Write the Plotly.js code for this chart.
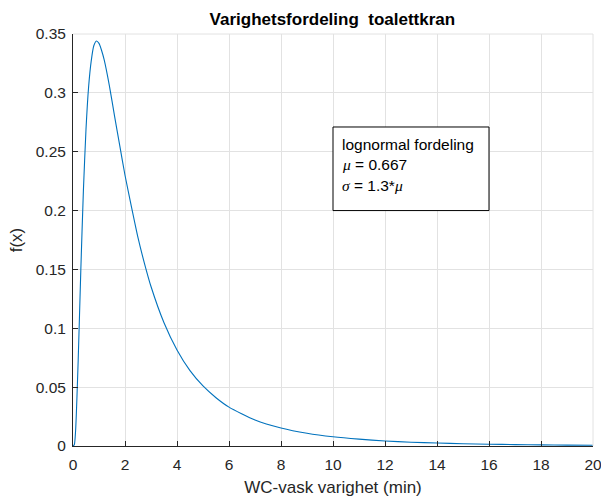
<!DOCTYPE html>
<html>
<head>
<meta charset="utf-8">
<script src="https://cdn.plot.ly/plotly-3.0.1.min.js"></script>
<style>html,body{margin:0;padding:0;background:#fff;}#chart{width:601px;height:498px;}</style>
</head>
<body>
<div id="chart"></div>
<script>
// Duration (min) and density values
const durations = [0, 0.05, 0.1, 0.2, 0.3, 0.4, 0.5, 0.6, 0.7, 0.8, 0.9, 1.0, 1.1, 1.2, 1.4, 1.6, 1.8, 2.0, 2.25, 2.5, 2.75, 3.0, 3.5, 4.0, 4.5, 5.0, 5.5, 6.0, 7.0, 8.0, 9.0, 10.0, 11.0, 12.0, 13.0, 14.0, 15.0, 16.0, 17.0, 18.0, 19.0, 20.0];
const density   = [0, 0.001, 0.013, 0.073, 0.149, 0.217, 0.269, 0.305, 0.327, 0.340, 0.344, 0.342, 0.336, 0.328, 0.306, 0.280, 0.255, 0.230, 0.203, 0.177, 0.155, 0.1355, 0.1047, 0.0816, 0.064, 0.051, 0.041, 0.033, 0.0221, 0.0153, 0.0108, 0.0078, 0.0058, 0.0043, 0.0032, 0.0025, 0.0019, 0.0015, 0.0012, 0.00095, 0.00077, 0.00062];
const xTicks = [0, 2, 4, 6, 8, 10, 12, 14, 16, 18, 20];
const yTicks = [0, 0.05, 0.1, 0.15, 0.2, 0.25, 0.3, 0.35];
const yTickText = ["0", "0.05", "0.1", "0.15", "0.2", "0.25", "0.3", "0.35"];
const titleText = "Varighetsfordeling  toalettkran";
const xLabel = "WC-vask varighet (min)";
const yLabel = "f(x)";
const boxLines = [
  "lognormal fordeling",
  "<span style='font-family:Liberation Serif'><i>μ</i></span> = 0.667",
  "<span style='font-family:Liberation Serif'><i>σ</i></span> = 1.3*<span style='font-family:Liberation Serif'><i>μ</i></span>"
];

const font = "Liberation Sans, Arial, sans-serif";
const axisColor = "#262626";
const gridColor = "#e2e2e2";

const trace = {
  x: durations, y: density, type: "scatter", mode: "lines",
  line: {color: "#0072BD", width: 1.1, shape: "spline", smoothing: 0.6},
  hoverinfo: "skip"
};

const boxTop = 0.271, boxBot = 0.2, boxL = 10.0, boxR = 16.0;
const lineY = [0.2565, 0.2395, 0.2215];

const layout = {
  width: 601, height: 498,
  margin: {l: 73, r: 8, t: 34, b: 52, pad: 0},
  paper_bgcolor: "#fff", plot_bgcolor: "#fff",
  showlegend: false,
  title: {text: "<b>" + titleText + "</b>", x: 0.553, xanchor: "center", y: 1 - 19/498, yanchor: "middle",
          yref: "container", xref: "container",
          font: {family: font, size: 17, color: "#000"}},
  xaxis: {
    range: [0, 20], tickvals: xTicks, ticktext: xTicks.map(String),
    ticks: "inside", ticklen: 5, tickwidth: 1, tickcolor: axisColor,
    showline: true, linecolor: axisColor, linewidth: 1, mirror: false,
    showgrid: true, gridcolor: gridColor, gridwidth: 1, zeroline: false,
    ticklabeloverflow: "allow", ticklabelstandoff: 4,
    tickfont: {family: font, size: 15.5, color: axisColor},
    title: {text: xLabel, font: {family: font, size: 17, color: axisColor}, standoff: 9}
  },
  yaxis: {
    range: [0, 0.35], tickvals: yTicks, ticktext: yTickText,
    ticks: "inside", ticklen: 5, tickwidth: 1, tickcolor: axisColor,
    showline: true, linecolor: axisColor, linewidth: 1, mirror: false,
    showgrid: true, gridcolor: gridColor, gridwidth: 1, zeroline: false,
    ticklabeloverflow: "allow",
    tickfont: {family: font, size: 15.5, color: axisColor},
    ticklabelstandoff: 3,
    title: {text: yLabel, font: {family: font, size: 17, color: axisColor}, standoff: 8}
  },
  shapes: [
    {type: "rect", xref: "x", yref: "y", x0: boxL, x1: boxR, y0: boxBot, y1: boxTop,
     line: {color: "#000", width: 1}, fillcolor: "#fff", layer: "above"},
    {type: "line", xref: "paper", yref: "paper", x0: 0, x1: 1, y0: 1, y1: 1, line: {color: gridColor, width: 1}},
    {type: "line", xref: "paper", yref: "paper", x0: 1, x1: 1, y0: 0, y1: 1, line: {color: gridColor, width: 1}}
  ],
  annotations: boxLines.map((t, i) => ({
    text: t, xref: "x", yref: "y", x: boxL + 0.25, y: lineY[i],
    xanchor: "left", yanchor: "middle", showarrow: false, align: "left",
    font: {family: font, size: 15.5, color: "#000"}
  }))
};

Plotly.newPlot("chart", [trace], layout, {staticPlot: true, displayModeBar: false});
</script>
</body>
</html>
